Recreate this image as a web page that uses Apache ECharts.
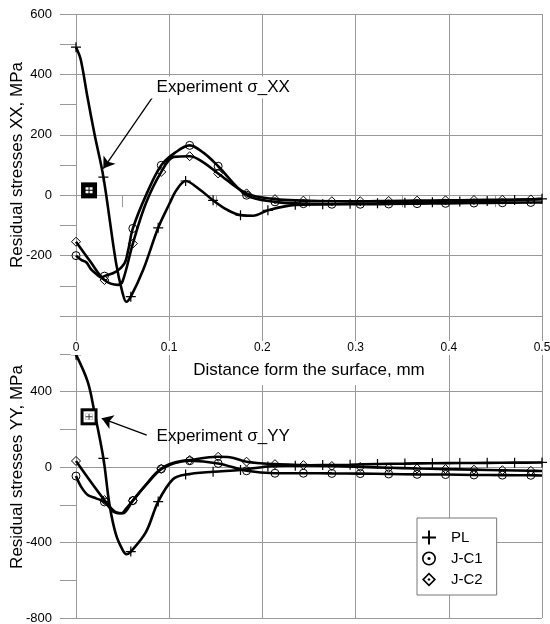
<!DOCTYPE html>
<html>
<head>
<meta charset="utf-8">
<script src="https://cdn.jsdelivr.net/npm/echarts@6/dist/echarts.min.js"></script>
<style>html,body{margin:0;padding:0;background:#fff}#c{width:550px;height:624px}</style>
</head>
<body>
<div id="c"></div>
<script>
// ---------- DATA ----------
// x positions of markers (mm)
const plMarkX = [0, 0.0294, 0.0588, 0.0882, 0.1176, 0.1471, 0.1765, 0.2059, 0.2353, 0.2647, 0.2941, 0.3235, 0.3529, 0.3824, 0.4118, 0.4412, 0.4706, 0.5];
const jMarkX  = [0, 0.0305, 0.061, 0.0915, 0.122, 0.1525, 0.183, 0.2135, 0.244, 0.2745, 0.305, 0.3355, 0.366, 0.3965, 0.427, 0.4575, 0.488];

// Top chart: residual stresses XX (MPa)
const plXX  = [490, 60, -336, -108, 47, -17, -66, -50, -32, -30, -28, -27, -25, -23, -21, -19, -16, -12];
const plXXLineX = [0.005, 0.012, 0.02, 0.043, 0.05, 0.054, 0.072, 0.1, 0.108, 0.133, 0.162, 0.19];
const plXXLineY = [450, 330, 200, -225, -324, -353, -248, -30, 18, 18, -48, -68];

const jc1XX = [-200, -268, -110, 99, 165, 96, 0, -22, -28, -30, -30, -29, -28, -27, -26, -25, -24];
const jc1XXLineX = [0.006, 0.011, 0.016, 0.022, 0.027, 0.043, 0.052, 0.056, 0.076, 0.106, 0.137, 0.5];
const jc1XXLineY = [-215, -222, -245, -262, -272, -253, -226, -182, 6, 140, 140, -24];

const jc2XX = [-154, -281, -160, 77, 129, 72, 6, -13, -18, -20, -20, -19, -18, -17, -16, -15, -14];
const jc2XXLineX = [0.015, 0.045, 0.05, 0.075, 0.105, 0.137, 0.5];
const jc2XXLineY = [-218, -297, -285, -27, 127, 108, -13];

// Bottom chart: residual stresses YY (MPa)
const plYY  = [595, 46, -448, -183, -40, -25, -16, 3, 7, 10, 12, 16, 18, 20, 21, 22, 23, 24];
const plYYLineX = [0.0126, 0.0197, 0.036, 0.043, 0.05, 0.054, 0.075, 0.104];
const plYYLineY = [451, 293, -201, -360, -439, -462, -345, -65];

const jc1YY = [-48, -185, -178, -10, 33, 19, -20, -33, -33, -34, -35, -37, -39, -40, -42, -43, -44];
const jc1YYLineX = [0.0054, 0.0126, 0.0215, 0.04, 0.049, 0.054, 0.075, 0.5];
const jc1YYLineY = [-104, -148, -166, -236, -245, -219, -95, -45];

const jc2YY = [32, -175, -178, -10, 37, 54, 28, 15, 10, 5, 0, -4, -8, -11, -14, -17, -20];
const jc2YYLineX = [0.043, 0.05, 0.075, 0.105, 0.165, 0.5];
const jc2YYLineY = [-240, -245, -95, 22, 52, -21];

// Experimental points
const expXX = [0.014, 16];
const expYY = [0.014, 266];

// Axis tick labels
const xTicks = [0, 0.1, 0.2, 0.3, 0.4, 0.5];
const yTicksXX = [600, 400, 200, 0, -200];
const yTicksYY = [400, 0, -400, -800];

// ---------- CHART ----------
const FONT = '"Liberation Sans", Arial, sans-serif';
const plusSym = 'path://M4.4,0H5.6V4.4H10V5.6H5.6V10H4.4V5.6H0V4.4H4.4Z';
const legPlus = 'path://M6,0H8V6H14V8H8V14H6V8H0V6H6Z';
const legCircle = 'path://M7,0A7,7,0,1,1,7,14A7,7,0,1,1,7,0Z M7,1.6A5.4,5.4,0,1,0,7,12.4A5.4,5.4,0,1,0,7,1.6Z M7,5.4A1.6,1.6,0,1,1,7,8.6A1.6,1.6,0,1,1,7,5.4Z';
const legDiamond = 'path://M7,0L14,7L7,14L0,7Z M7,2.3L2.3,7L7,11.7L11.7,7Z M7,5.4L8.6,7L7,8.6L5.4,7Z';
const cellsSym = 'path://M0,0H3V2.5H0Z M4,0H7V2.5H4Z M0,3.5H3V6H0Z M4,3.5H7V6H4Z';

function build(markX, markY, lineX, lineY) {
  const pts = [];
  markX.forEach((x, i) => pts.push({ value: [x, markY[i]] }));
  lineX.forEach((x, i) => pts.push({ value: [x, lineY[i]], symbol: 'none' }));
  pts.sort((a, b) => a.value[0] - b.value[0]);
  return pts;
}

function curve(name, grid, data, kind) {
  const s = {
    name: name, type: 'line', xAxisIndex: grid, yAxisIndex: grid,
    data: data, smooth: 0.35, showAllSymbol: true,
    lineStyle: { color: '#000', width: 2.6 }, z: 3, silent: true
  };
  if (kind === 'plus') {
    s.symbol = plusSym; s.symbolSize = 10; s.itemStyle = { color: '#000' };
  } else if (kind === 'circle') {
    s.symbol = 'circle'; s.symbolSize = 8;
    s.itemStyle = { color: 'transparent', borderColor: '#000', borderWidth: 1 };
  } else {
    s.symbol = 'diamond'; s.symbolSize = 9;
    s.itemStyle = { color: 'transparent', borderColor: '#000', borderWidth: 1 };
  }
  return s;
}

const gridColor = '#999';
function yAxis(grid, min, max, interval, shown, name) {
  return {
    gridIndex: grid, type: 'value', min: min, max: max, interval: interval,
    axisLine: { show: false },
    axisTick: { show: true, length: 16, lineStyle: { color: gridColor } },
    minorTick: { show: true, splitNumber: 2, length: 16, lineStyle: { color: gridColor } },
    splitLine: { show: true, lineStyle: { color: gridColor, width: 1 } },
    axisLabel: { margin: 24, fontSize: 13, color: '#000', fontFamily: FONT,
      formatter: v => shown.indexOf(v) >= 0 ? String(v) : '' },
    name: name, nameLocation: 'middle', nameGap: 50, nameMoveOverlap: false,
    nameTextStyle: { fontSize: 17, color: '#000', fontFamily: FONT }
  };
}

const option = {
  animation: false,
  backgroundColor: '#fff',
  textStyle: { fontFamily: FONT },
  grid: [
    { left: 76, right: 8, top: 14, height: 302, outerBoundsMode: 'none', containLabel: false },
    { left: 76, right: 8, top: 316, height: 302, outerBoundsMode: 'none', containLabel: false }
  ],
  xAxis: [
    { gridIndex: 0, type: 'value', min: 0, max: 0.5, interval: 0.1, position: 'bottom',
      axisLine: { show: false },
      axisTick: { show: true, length: 12, lineStyle: { color: gridColor } },
      minorTick: { show: true, splitNumber: 2, length: 12, lineStyle: { color: gridColor } },
      splitLine: { show: true, lineStyle: { color: gridColor } },
      axisLabel: { show: false } },
    { gridIndex: 1, type: 'value', min: 0, max: 0.5, interval: 0.1, position: 'bottom',
      axisLine: { show: false }, axisTick: { show: false },
      splitLine: { show: true, lineStyle: { color: gridColor } },
      axisLabel: { show: false } },
    { gridIndex: 0, type: 'value', min: 0, max: 0.5, interval: 0.1, z: 10, position: 'bottom',
      axisLine: { show: false }, axisTick: { show: false }, splitLine: { show: false },
      axisLabel: { show: true, margin: 25, fontSize: 12, color: '#000', fontFamily: FONT,
        backgroundColor: '#fff', padding: [1, 2, 1, 2],
        formatter: v => { const m = xTicks.find(t => Math.abs(t - v) < 1e-6); return m === undefined ? '' : String(m); } },
      name: 'Distance form the surface, mm', nameLocation: 'middle', nameGap: 36, nameMoveOverlap: false,
      nameTextStyle: { fontSize: 17, color: '#000', fontFamily: FONT, backgroundColor: '#fff', padding: [10, 6, 6, 6] } }
  ],
  yAxis: [
    yAxis(0, -400, 600, 200, yTicksXX, 'Residual stresses XX, MPa'),
    yAxis(1, -800, 800, 400, yTicksYY, 'Residual stresses YY, MPa')
  ],
  legend: {
    orient: 'vertical', left: 417, top: 518,
    padding: [12, 14, 8, 5], itemWidth: 14, itemHeight: 14, itemGap: 6,
    borderColor: '#777', borderWidth: 1, backgroundColor: '#fff',
    textStyle: { fontSize: 15, color: '#000', fontFamily: FONT, padding: [0, 0, 0, 10] },
    selectedMode: false,
    data: [
      { name: 'PL', icon: legPlus, itemStyle: { color: '#000', borderWidth: 0 } },
      { name: 'J-C1', icon: legCircle, itemStyle: { color: '#000', borderWidth: 0 } },
      { name: 'J-C2', icon: legDiamond, itemStyle: { color: '#000', borderWidth: 0 } }
    ]
  },
  series: [
    curve('PL', 0, build(plMarkX, plXX, plXXLineX, plXXLineY), 'plus'),
    curve('J-C1', 0, build(jMarkX, jc1XX, jc1XXLineX, jc1XXLineY), 'circle'),
    curve('J-C2', 0, build(jMarkX, jc2XX, jc2XXLineX, jc2XXLineY), 'diamond'),
    curve('PL', 1, build(plMarkX, plYY, plYYLineX, plYYLineY), 'plus'),
    curve('J-C1', 1, build(jMarkX, jc1YY, jc1YYLineX, jc1YYLineY), 'circle'),
    curve('J-C2', 1, build(jMarkX, jc2YY, jc2YYLineX, jc2YYLineY), 'diamond'),
    { name: 'Experiment σ_XX', type: 'scatter', xAxisIndex: 0, yAxisIndex: 0, z: 5, silent: true,
      data: [
        { value: expXX, symbol: 'rect', symbolSize: 16, itemStyle: { color: '#000', opacity: 1 } },
        { value: expXX, symbol: cellsSym, symbolSize: [7, 6], itemStyle: { color: '#fff', opacity: 1 } }
      ],
      markLine: { silent: true, symbol: ['none', 'arrow'], symbolSize: 11,
        lineStyle: { color: '#000', width: 1.3, type: 'solid' }, label: { show: false },
        data: [[{ coord: [0.0837, 331] }, { coord: [0.0293, 88] }]] },
      markPoint: { silent: true, symbol: 'rect', symbolSize: 1, itemStyle: { color: 'transparent' },
        label: { show: true, position: 'inside', formatter: 'Experiment σ_XX', fontSize: 17, color: '#000',
          fontFamily: FONT, backgroundColor: '#fff', padding: [4, 9, 1, 9] },
        data: [{ coord: [0.158, 357] }] }
    },
    { name: 'Experiment σ_YY', type: 'scatter', xAxisIndex: 1, yAxisIndex: 1, z: 5, silent: true,
      data: [
        { value: expYY, symbol: 'rect', symbolSize: 17, itemStyle: { color: '#000', opacity: 1 } },
        { value: expYY, symbol: 'rect', symbolSize: 11, itemStyle: { color: '#fff', opacity: 1 } },
        { value: expYY, symbol: 'rect', symbolSize: [7, 6], itemStyle: { color: '#333', opacity: 1 } },
        { value: expYY, symbol: cellsSym, symbolSize: [7, 6], itemStyle: { color: '#fff', opacity: 1 } }
      ],
      markLine: { silent: true, symbol: ['none', 'arrow'], symbolSize: 11,
        lineStyle: { color: '#000', width: 1.3, type: 'solid' }, label: { show: false },
        data: [[{ coord: [0.0759, 169] }, { coord: [0.0276, 258] }]] },
      markPoint: { silent: true, symbol: 'rect', symbolSize: 1, itemStyle: { color: 'transparent' },
        label: { show: true, position: 'inside', formatter: 'Experiment σ_YY', fontSize: 17, color: '#000',
          fontFamily: FONT },
        data: [{ coord: [0.158, 164] }] }
    }
  ]
};

const chart = echarts.init(document.getElementById('c'), null, { renderer: 'canvas' });
chart.setOption(option);
</script>
</body>
</html>
